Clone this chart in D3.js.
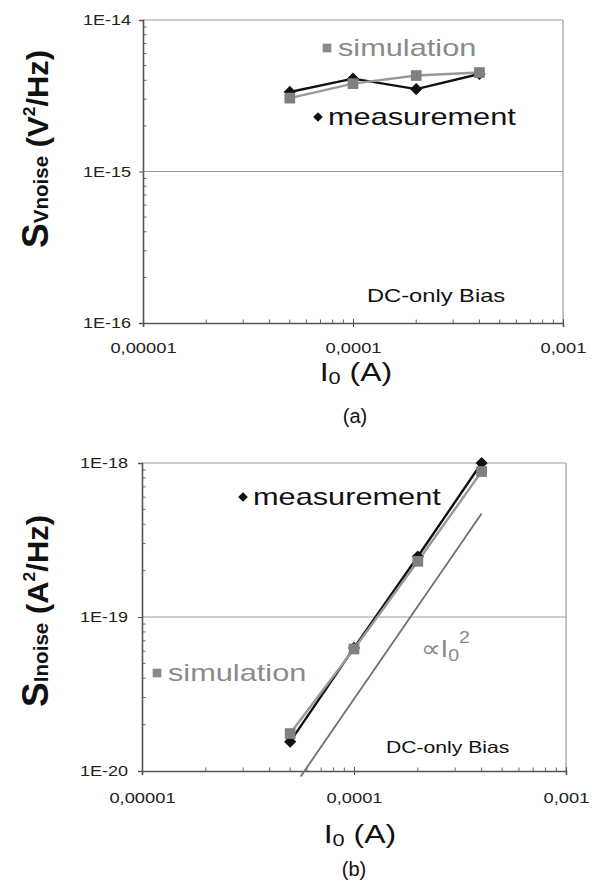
<!DOCTYPE html>
<html>
<head>
    <meta charset="utf-8">
    <script src="https://d3js.org/d3.v7.min.js"></script>
    <style>
        body { margin: 0; background: #fff; }
        svg { display: block; }
        text { font-family: "Liberation Sans", Arial, sans-serif; }
    </style>
</head>
<body>
    <svg id="fig" width="592" height="883"></svg>

    <script>
        // bias currents (A)
        const currents = [5e-5, 1e-4, 2e-4, 4e-4];

        // (a) voltage noise, V^2/Hz
        const vMeasured = [3.35e-15, 4.1e-15, 3.5e-15, 4.4e-15];
        const vSimulated = [3.05e-15, 3.8e-15, 4.3e-15, 4.5e-15];

        // (b) current noise, A^2/Hz
        const iMeasured = [1.55e-20, 6.3e-20, 2.47e-19, 1.0e-18];
        const iSimulated = [1.75e-20, 6.2e-20, 2.3e-19, 8.8e-19];

        // I0^2 guide line end points
        const guideX = [5.6e-5, 4e-4];
        const guideY = [9.2e-21, 4.7e-19];

        const xTicks = [1e-5, 1e-4, 1e-3];
        const xTickLabels = ["0,00001", "0,0001", "0,001"];
        const yTicksA = [1e-16, 1e-15, 1e-14];
        const yTickLabelsA = ["1E-16", "1E-15", "1E-14"];
        const yTicksB = [1e-20, 1e-19, 1e-18];
        const yTickLabelsB = ["1E-20", "1E-19", "1E-18"];

        const SX = 1.28; // the figure is stretched sideways
        const grey = "#8a8a8a";

        const svg = d3.select("#fig");

        // stretch a text element horizontally (or along its length)
        function stretch(sel, factor) {
            sel.each(function () {
                const len = this.getComputedTextLength();
                d3.select(this).attr("textLength", len * factor).attr("lengthAdjust", "spacingAndGlyphs");
            });
            return sel;
        }

        function drawPanel(o) {
            const x = d3.scaleLog().domain([1e-5, 1e-3]).range([o.left, o.right]);
            const y = d3.scaleLog().domain(o.yDomain).range([o.bottom, o.top]);
            const g = svg.append("g");

            // frame top / right and the middle gridline
            g.append("line").attr("x1", o.left).attr("x2", o.right).attr("y1", o.top).attr("y2", o.top)
                .attr("stroke", "#9a9a9a").attr("stroke-width", 1.2);
            g.append("line").attr("x1", o.right).attr("x2", o.right).attr("y1", o.top).attr("y2", o.bottom)
                .attr("stroke", "#9a9a9a").attr("stroke-width", 1.2);
            g.append("line").attr("x1", o.left).attr("x2", o.right)
                .attr("y1", y(o.yTicks[1])).attr("y2", y(o.yTicks[1]))
                .attr("stroke", "#9a9a9a").attr("stroke-width", 1.2);

            // minor ticks, drawn inside
            const xMinor = [];
            const yMinor = [];
            for (let k = 2; k <= 9; k++) {
                xMinor.push(k * 1e-5, k * 1e-4);
                yMinor.push(k * o.yTicks[0], k * o.yTicks[1]);
            }
            g.selectAll(".xm").data(xMinor).join("line")
                .attr("x1", d => x(d)).attr("x2", d => x(d))
                .attr("y1", o.bottom).attr("y2", o.bottom - 3.5)
                .attr("stroke", "#666").attr("stroke-width", 1);
            g.selectAll(".ym").data(yMinor).join("line")
                .attr("x1", o.left).attr("x2", o.left + 3.5)
                .attr("y1", d => y(d)).attr("y2", d => y(d))
                .attr("stroke", "#666").attr("stroke-width", 1);

            // axes
            const xAxis = d3.axisBottom(x).tickValues(xTicks).tickSize(4)
                .tickFormat((d, i) => xTickLabels[i]);
            const yAxis = d3.axisLeft(y).tickValues(o.yTicks).tickSize(4)
                .tickFormat((d, i) => o.yTickLabels[i]);

            const gx = g.append("g").attr("transform", `translate(0,${o.bottom})`).call(xAxis);
            gx.select(".domain").attr("stroke", "#555").attr("stroke-width", 1.6);
            gx.selectAll(".tick line").attr("stroke", "#555").attr("y1", -4);
            gx.selectAll(".tick text").attr("fill", "#222").attr("font-size", 15)
                .attr("y", 0).attr("dy", null).attr("transform", `translate(0,${o.xLabelBase - o.bottom})`);
            stretch(gx.selectAll(".tick text"), 1.22);

            const gy = g.append("g").attr("transform", `translate(${o.left},0)`).call(yAxis);
            gy.select(".domain").attr("stroke", "#555").attr("stroke-width", 1.6);
            gy.selectAll(".tick line").attr("stroke", "#555");
            gy.selectAll(".tick text").attr("fill", "#222").attr("font-size", 15)
                .attr("x", o.yLabelEnd - o.left);
            stretch(gy.selectAll(".tick text"), 1.2);

            // guide line (panel b only)
            if (o.guide) {
                g.append("path")
                    .datum(d3.zip(o.guide[0], o.guide[1]))
                    .attr("d", d3.line().x(d => x(d[0])).y(d => y(d[1])))
                    .attr("fill", "none").attr("stroke", "#707070").attr("stroke-width", 1.8);
            }

            const line = d3.line().x(d => x(d[0])).y(d => y(d[1]));
            const sim = d3.zip(currents, o.sim);
            const meas = d3.zip(currents, o.meas);

            g.append("path").datum(meas).attr("d", line)
                .attr("fill", "none").attr("stroke", "#111").attr("stroke-width", 2.4);
            g.append("path").datum(sim).attr("d", line)
                .attr("fill", "none").attr("stroke", "#999").attr("stroke-width", 2.4);

            g.selectAll(".dia").data(meas).join("path")
                .attr("d", d3.symbol(d3.symbolDiamond2, 95))
                .attr("transform", d => `translate(${x(d[0])},${y(d[1])})`)
                .attr("fill", "#111");
            g.selectAll(".sq").data(sim).join("path")
                .attr("d", d3.symbol(d3.symbolSquare, 115))
                .attr("transform", d => `translate(${x(d[0])},${y(d[1])})`)
                .attr("fill", "#808080");

            // legends
            g.append("path").attr("d", d3.symbol(d3.symbolSquare, 75))
                .attr("transform", `translate(${o.simKey[0]},${o.simKey[1]})`).attr("fill", grey);
            stretch(g.append("text").attr("x", o.simKey[0] + 11).attr("y", o.simKey[1] + 8)
                .attr("font-size", 24).attr("fill", grey).text("simulation"), SX);

            g.append("path").attr("d", d3.symbol(d3.symbolDiamond2, 60))
                .attr("transform", `translate(${o.measKey[0]},${o.measKey[1]})`).attr("fill", "#111");
            stretch(g.append("text").attr("x", o.measKey[0] + 10).attr("y", o.measKey[1] + 8)
                .attr("font-size", 24).attr("fill", "#111").text("measurement"), SX);

            stretch(g.append("text").attr("x", o.dc[0]).attr("y", o.dc[1])
                .attr("font-size", o.dc[2]).attr("fill", "#111").text("DC-only Bias"), SX);

            // axis titles
            const xt = g.append("text").attr("x", o.xTitle[0]).attr("y", o.xTitle[1])
                .attr("text-anchor", "middle").attr("font-size", 25).attr("fill", "#111");
            xt.append("tspan").text("I");
            xt.append("tspan").attr("font-size", 17).attr("dy", 3).text("0");
            xt.append("tspan").attr("dy", -3).text(" (A)");
            stretch(xt, SX);

            const yt = g.append("text")
                .attr("transform", `translate(48,${o.yTitle[0]}) rotate(-90)`)
                .attr("text-anchor", "middle").attr("font-weight", "bold").attr("fill", "#111");
            yt.append("tspan").attr("font-size", 36).text("S");
            yt.append("tspan").attr("font-size", 20).text(o.yTitle[2]);
            yt.append("tspan").attr("font-size", 30).text(" (" + o.yTitle[3]);
            yt.append("tspan").attr("font-size", 17).attr("dy", -13).text("2");
            yt.append("tspan").attr("font-size", 30).attr("dy", 13).text("/Hz)");
            yt.attr("textLength", o.yTitle[1]).attr("lengthAdjust", "spacingAndGlyphs");

            // panel caption
            g.append("text").attr("x", o.caption[0]).attr("y", o.caption[1])
                .attr("text-anchor", "middle").attr("font-size", 20)
                .attr("font-family", "'Liberation Serif', 'Times New Roman', serif")
                .attr("fill", "#111").text(o.caption[2]);

            return { x, y, g };
        }

        drawPanel({
            left: 143, right: 563, top: 20, bottom: 323,
            yDomain: [1e-16, 1e-14], yTicks: yTicksA, yTickLabels: yTickLabelsA,
            xLabelBase: 353, yLabelEnd: 131,
            meas: vMeasured, sim: vSimulated,
            simKey: [327, 48], measKey: [318, 117],
            dc: [367, 302, 18.5],
            xTitle: [356, 381],
            yTitle: [149, 198, "Vnoise", "V"],
            caption: [355, 423, "(a)"]
        });

        const pb = drawPanel({
            left: 142, right: 566, top: 463, bottom: 771,
            yDomain: [1e-20, 1e-18], yTicks: yTicksB, yTickLabels: yTickLabelsB,
            xLabelBase: 803, yLabelEnd: 128,
            meas: iMeasured, sim: iSimulated, guide: [guideX, guideY],
            simKey: [157, 673], measKey: [243, 497],
            dc: [386, 753, 16.5],
            xTitle: [360, 843],
            yTitle: [611, 192, "Inoise", "A"],
            caption: [354, 876, "(b)"]
        });

        // proportional-to-I0^2 label
        const pl = pb.g.append("text").attr("x", 421).attr("y", 657).attr("font-size", 24).attr("fill", grey);
        pl.append("tspan").text("\u221DI");
        pl.append("tspan").attr("font-size", 17).attr("dy", 4).text("0");
        pl.append("tspan").attr("font-size", 17).attr("dy", -18).text("2");
        stretch(pl, 1.15);
    </script>
</body>
</html>
